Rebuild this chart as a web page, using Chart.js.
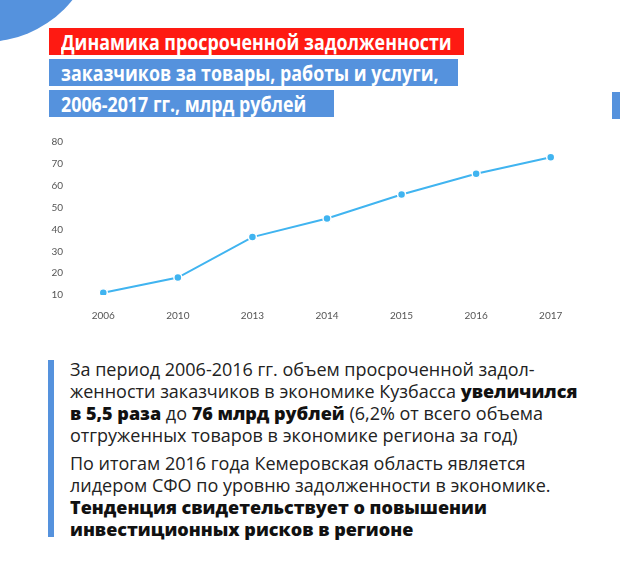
<!DOCTYPE html>
<html>
<head>
<meta charset="utf-8">
<script src="https://cdn.jsdelivr.net/npm/chart.js@4.4.0/dist/chart.umd.min.js"></script>
<style>
  html, body { margin: 0; padding: 0; background: #fff; }
  body { width: 620px; height: 567px; position: relative; overflow: hidden; font-family: "Open Sans", sans-serif; }
  .circle { position: absolute; left: -127px; top: -182px; width: 224px; height: 224px; border-radius: 50%; background: #5592dd; }
  .rbar { position: absolute; left: 612px; top: 92px; width: 8px; height: 27px; background: #5592dd; }
  .tbox { position: absolute; left: 49px; height: 27px; color: #fff; font-family: "Open Sans", sans-serif; font-weight: bold; font-size: 22px; line-height: 27px; padding-left: 12px; box-sizing: border-box; white-space: nowrap; overflow: hidden; }
  .tbox span { display: inline-block; transform: scaleX(0.81); transform-origin: 0 50%; }
  .t1 { top: 28px; width: 415px; background: #fe1a12; }
  .t2 { top: 59px; width: 409px; background: #5592dd; }
  .t3 { top: 90px; width: 285px; background: #5592dd; }
  #wrap { position: absolute; left: 0; top: 130px; width: 620px; height: 211px; }
  .lbar { position: absolute; left: 48px; top: 360px; width: 6px; height: 177px; background: #5592dd; }
  .txt { position: absolute; left: 70px; top: 358px; width: 548px; font-size: 18px; line-height: 22px; color: #222; }
  .txt p { margin: 0 0 6px 0; }
  .txt b { color: #111; font-weight: 800; }
</style>
</head>
<body>
<div class="circle"></div>
<div class="rbar"></div>
<div class="tbox t1"><span>Динамика просроченной задолженности</span></div>
<div class="tbox t2"><span>заказчиков за товары, работы и услуги,</span></div>
<div class="tbox t3"><span>2006-2017 гг., млрд рублей</span></div>
<div id="wrap"><canvas id="graph"></canvas></div>
<div class="lbar"></div>
<div class="txt">
  <p>За период 2006-2016 гг. объем просроченной задол-<br>женности заказчиков в экономике Кузбасса <b>увеличился<br>в 5,5 раза</b> до <b>76 млрд рублей</b> (6,2% от всего объема<br>отгруженных товаров в экономике региона за год)</p>
  <p>По итогам 2016 года Кемеровская область является<br>лидером СФО по уровню задолженности в экономике.<br><b>Тенденция свидетельствует о повышении<br>инвестиционных рисков в регионе</b></p>
</div>
<script>
var years = ['2006', '2010', '2013', '2014', '2015', '2016', '2017'];
var debt = [11, 18, 36.5, 45, 56, 65.5, 73];
var yTicks = [10, 20, 30, 40, 50, 60, 70, 80];

var drawGraph = function () {
  var ctx = document.getElementById('graph').getContext('2d');
  new Chart(ctx, {
    type: 'line',
    data: {
      labels: years,
      datasets: [{
        data: debt,
        borderColor: '#40b4f0',
        backgroundColor: '#40b4f0',
        borderWidth: 2,
        fill: false,
        tension: 0,
        pointRadius: 4,
        pointBorderColor: '#fff',
        pointBorderWidth: 1.5,
        pointBackgroundColor: '#40b4f0'
      }]
    },
    options: {
      responsive: true,
      maintainAspectRatio: false,
      animation: false,
      layout: { padding: { left: 51, right: 32, top: 12, bottom: 4 } },
      plugins: { legend: { display: false }, tooltip: { enabled: false } },
      scales: {
        x: {
          offset: true,
          grid: { display: false, drawTicks: false },
          border: { display: false },
          ticks: { color: '#555', font: { family: 'Lato', size: 10 }, padding: 15 }
        },
        y: {
          min: yTicks[0],
          max: yTicks[yTicks.length - 1],
          afterBuildTicks: function (s) { s.ticks = yTicks.map(function (v) { return { value: v }; }); },
          afterFit: function (s) { s.width = 15; },
          grid: { display: false, drawTicks: false },
          border: { display: false },
          ticks: { color: '#555', font: { family: 'Lato', size: 10 }, padding: 3 }
        }
      }
    }
  });
};

window.onload = function () { drawGraph(); };
</script>
</body>
</html>
